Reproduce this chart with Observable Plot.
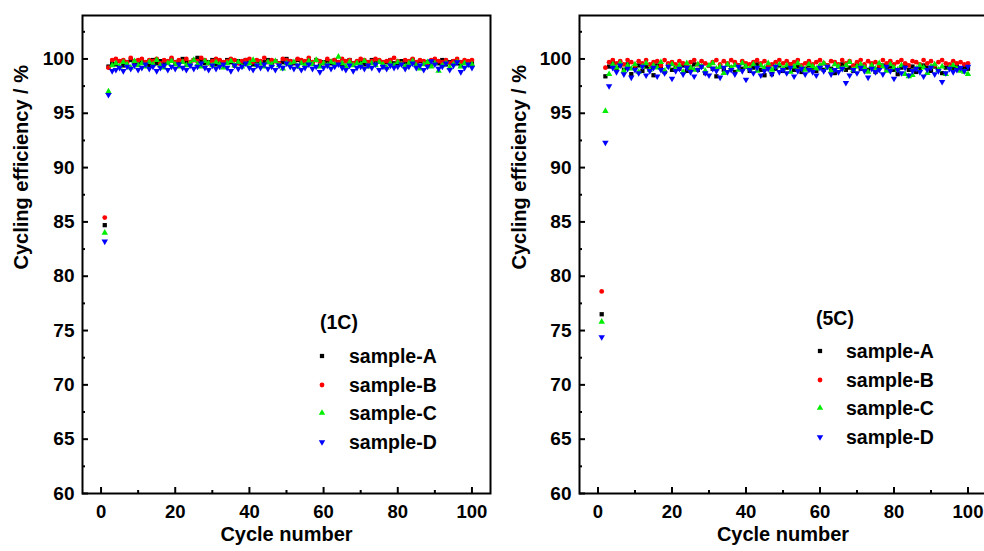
<!DOCTYPE html>
<html>
<head>
<meta charset="utf-8">
<script src="https://cdn.jsdelivr.net/npm/d3@7"></script>
<script src="https://cdn.jsdelivr.net/npm/@observablehq/plot@0.6"></script>
<style>
  html, body { margin: 0; padding: 0; background: #fff; }
  #wrap { position: relative; width: 984px; height: 551px; overflow: hidden; font-family: "Liberation Sans", Arial, sans-serif; font-weight: bold; color: #000; }
  .panel { position: absolute; top: 0; }
  .lg { position: absolute; white-space: nowrap; transform: translateY(-50%); font-size: 19.5px; line-height: 22px; }
  .mk { position: absolute; transform: translate(-50%, -50%); }
</style>
</head>
<body>
<div id="wrap"></div>
<script>
// ---------------- data ----------------
const cycles = d3.range(1, 101);
const sampleNames = ["sample-A", "sample-B", "sample-C", "sample-D"];
const sampleColors = ["#000000", "#ff0000", "#00ee00", "#0000ff"];
const rateLabels = ["(1C)", "(5C)"];
const xTicks = [0, 20, 40, 60, 80, 100];
const xMinor = [10, 30, 50, 70, 90];
const yTicks = [60, 65, 70, 75, 80, 85, 90, 95, 100];
const yMinor = [62.5, 67.5, 72.5, 77.5, 82.5, 87.5, 92.5, 97.5, 102.5];
const xLabel = "Cycle number";
const yLabel = "Cycling efficiency / %";

// 1C
const c1A = [84.7, 99.3, 99.6, 99.5, 99.8, 99.4, 99.7, 99.9, 99.6, 99.5,
  99.8, 99.7, 99.4, 99.9, 99.6, 99.8, 99.5, 99.7, 99.9, 99.6,
  99.8, 100.0, 99.7, 99.5, 99.9, 100.1, 99.8, 99.6, 99.7, 99.9,
  99.5, 99.8, 99.6, 99.9, 99.7, 99.4, 99.8, 99.6, 99.9, 99.7,
  99.5, 99.8, 99.6, 99.7, 99.9, 99.5, 99.8, 99.6, 99.7, 100.0,
  99.8, 99.6, 99.9, 99.7, 99.5, 99.8, 99.6, 99.9, 99.4, 99.7,
  99.8, 99.6, 99.9, 99.7, 99.5, 99.8, 99.9, 99.6, 99.7, 99.8,
  99.5, 99.7, 99.9, 99.6, 99.8, 99.4, 99.7, 99.9, 99.6, 99.5,
  99.8, 99.7, 99.6, 99.9, 99.5, 99.8, 99.6, 99.7, 99.4, 99.8,
  99.6, 99.9, 99.5, 99.7, 99.8, 99.6, 99.4, 99.7, 99.5, 99.6];
const c1B = [85.4, 99.2, 99.9, 100.0, 99.8, 99.9, 99.7, 100.1, 99.8, 99.9,
  100.0, 99.7, 99.9, 99.8, 100.0, 99.6, 99.9, 99.8, 100.1, 99.7,
  99.9, 99.8, 100.0, 99.7, 99.9, 99.8, 100.1, 99.9, 99.6, 99.8,
  100.0, 99.9, 99.7, 99.8, 100.0, 99.9, 99.6, 99.8, 99.9, 100.0,
  99.7, 99.9, 99.8, 100.1, 99.7, 99.9, 99.8, 99.6, 100.0, 99.9,
  99.8, 99.7, 100.0, 99.9, 99.8, 100.1, 99.7, 99.9, 99.8, 99.6,
  100.0, 99.8, 99.9, 99.7, 100.0, 99.8, 99.9, 99.6, 99.8, 100.0,
  99.9, 99.7, 99.8, 100.0, 99.9, 99.7, 99.8, 99.9, 100.1, 99.8,
  99.6, 99.9, 99.8, 100.0, 99.7, 99.9, 99.8, 99.6, 99.9, 100.0,
  99.8, 99.7, 99.9, 99.6, 99.8, 100.0, 99.7, 99.9, 99.8, 99.9];
const c1C = [84.0, 97.0, 99.4, 99.6, 99.3, 99.7, 99.5, 99.2, 99.8, 99.4,
  99.6, 99.3, 99.7, 99.5, 99.9, 99.4, 99.2, 99.6, 99.8, 99.5,
  99.3, 99.7, 99.4, 99.6, 99.9, 99.5, 99.3, 99.8, 99.6, 99.4,
  99.7, 99.5, 99.2, 99.6, 99.8, 99.4, 99.7, 99.3, 99.5, 99.6,
  99.9, 99.4, 99.6, 99.3, 99.7, 99.5, 99.8, 99.4, 99.1, 99.6,
  99.5, 99.7, 99.3, 99.6, 99.4, 99.8, 99.5, 99.9, 99.3, 99.6,
  99.4, 99.7, 99.5, 100.2, 99.6, 99.3, 99.7, 99.4, 99.6, 99.5,
  99.8, 99.3, 99.6, 99.4, 99.7, 99.5, 99.2, 99.6, 99.4, 99.7,
  99.5, 99.3, 99.6, 99.8, 99.4, 99.1, 99.5, 99.7, 99.3, 99.6,
  98.9, 99.4, 99.6, 99.2, 99.5, 99.7, 99.3, 99.6, 99.4, 99.5];
const c1D = [83.2, 96.7, 98.9, 99.0, 99.2, 98.9, 99.3, 99.1, 99.4, 99.0,
  99.2, 99.5, 99.1, 99.3, 98.9, 99.2, 99.4, 99.0, 99.3, 99.1,
  99.5, 99.2, 99.0, 99.4, 99.1, 99.3, 99.6, 99.2, 99.0, 99.4,
  99.1, 99.3, 99.5, 99.2, 98.9, 99.4, 99.1, 99.3, 99.6, 99.2,
  99.0, 99.4, 99.2, 99.5, 99.1, 99.3, 99.0, 99.4, 99.2, 99.6,
  99.3, 99.1, 99.4, 99.0, 99.2, 99.5, 99.1, 99.3, 98.8, 99.2,
  99.4, 99.1, 99.3, 99.5, 99.2, 99.0, 99.4, 98.9, 99.2, 99.3,
  99.1, 99.4, 99.2, 99.5, 99.0, 99.3, 99.1, 99.4, 99.2, 99.3,
  99.5, 99.1, 99.3, 99.6, 99.2, 99.4, 99.0, 99.3, 99.8, 99.5,
  99.1, 99.3, 99.6, 99.0, 99.4, 99.7, 98.8, 99.2, 99.5, 99.2];

// 5C
const c5A = [76.5, 98.4, 99.3, 99.6, 99.1, 99.4, 99.0, 99.5, 98.6, 99.2,
  99.4, 98.9, 99.3, 99.1, 98.5, 99.4, 99.2, 98.8, 99.5, 99.0,
  99.3, 99.1, 99.4, 98.9, 99.2, 99.5, 99.0, 99.3, 98.7, 99.4,
  99.1, 98.4, 99.3, 99.0, 99.5, 99.2, 98.8, 99.4, 99.1, 99.3,
  98.9, 99.2, 99.5, 99.0, 98.5, 99.3, 98.6, 99.1, 99.4, 98.9,
  99.2, 99.5, 99.0, 99.3, 98.8, 99.1, 99.4, 99.2, 98.9, 99.3,
  99.0, 99.4, 99.1, 98.7, 99.3, 99.5, 99.0, 99.2, 98.9, 99.4,
  99.1, 99.3, 99.0, 99.5, 98.8, 99.2, 99.4, 99.1, 99.3, 99.0,
  98.6, 99.2, 99.5, 99.0, 99.3, 98.8, 99.1, 99.4, 99.2, 98.9,
  99.3, 99.0, 98.7, 99.2, 99.4, 99.1, 99.3, 99.0, 99.2, 99.1];
const c5B = [78.6, 99.2, 99.7, 99.9, 99.6, 99.8, 99.5, 99.9, 99.7, 99.4,
  99.8, 99.6, 99.9, 99.5, 99.7, 99.8, 99.4, 99.9, 99.6, 99.7,
  99.5, 99.8, 99.6, 99.3, 99.7, 99.9, 99.5, 99.8, 99.6, 99.4,
  99.7, 99.9, 99.5, 99.8, 99.6, 99.9, 99.7, 99.4, 99.8, 99.6,
  99.5, 99.7, 99.9, 99.6, 99.8, 99.3, 99.5, 99.7, 99.9, 99.6,
  99.8, 99.5, 99.7, 99.9, 99.4, 99.6, 99.8, 99.5, 99.7, 99.9,
  99.6, 99.4, 99.8, 99.7, 99.5, 99.9, 99.6, 99.8, 99.4, 99.7,
  99.9, 99.5, 99.8, 99.6, 99.7, 99.4, 99.9, 99.6, 99.8, 99.5,
  99.7, 99.9, 99.6, 99.4, 99.8, 99.7, 99.5, 99.9, 99.6, 99.8,
  99.4, 99.7, 99.9, 99.6, 99.5, 99.8, 99.6, 99.7, 99.5, 99.6];
const c5C = [75.8, 95.2, 98.6, 99.5, 99.2, 99.6, 98.9, 99.4, 99.1, 99.5,
  98.8, 99.3, 99.6, 99.0, 99.4, 99.2, 99.7, 98.9, 99.3, 99.5,
  99.1, 99.4, 98.8, 99.6, 99.2, 99.0, 99.5, 99.3, 98.9, 99.4,
  99.6, 99.1, 99.3, 98.7, 99.5, 99.2, 99.4, 99.0, 99.6, 99.3,
  99.1, 99.5, 98.9, 99.4, 99.2, 99.6, 99.0, 99.3, 99.5, 99.1,
  99.4, 98.8, 99.3, 99.6, 99.2, 99.0, 99.5, 99.3, 99.1, 99.4,
  99.6, 99.2, 98.9, 99.5, 99.3, 99.1, 99.4, 99.7, 99.0, 99.3,
  99.5, 99.2, 98.8, 99.4, 99.1, 99.6, 99.3, 98.9, 99.5, 99.2,
  99.0, 99.4, 98.6, 98.4, 98.5, 99.1, 99.4, 99.2, 98.7, 99.3,
  99.5, 99.0, 99.3, 98.6, 99.2, 99.4, 99.1, 98.9, 98.8, 98.6];
const c5D = [74.4, 92.3, 97.5, 99.2, 98.8, 99.4, 98.6, 99.1, 98.3, 99.0,
  98.7, 99.3, 98.5, 98.9, 99.2, 98.4, 99.0, 98.7, 99.3, 98.2,
  98.9, 99.1, 98.6, 99.2, 98.8, 98.4, 99.0, 99.3, 98.7, 98.5,
  99.1, 98.9, 98.3, 99.2, 98.8, 99.0, 98.6, 99.3, 98.9, 98.1,
  99.0, 98.7, 99.2, 98.5, 98.9, 99.1, 98.6, 99.3, 98.8, 99.0,
  98.7, 99.2, 98.4, 98.9, 99.1, 98.6, 99.0, 98.8, 98.5, 99.2,
  98.9, 99.3, 98.6, 99.0, 98.8, 99.1, 97.8, 98.5, 99.0, 98.7,
  99.2, 98.9, 98.3, 99.1, 98.8, 99.0, 98.6, 99.3, 98.9, 98.2,
  99.0, 98.7, 99.2, 98.5, 98.9, 99.1, 98.8, 98.4, 99.0, 99.2,
  98.6, 98.9, 97.9, 98.7, 99.1, 98.8, 99.0, 99.2, 98.9, 99.3];

const panels1C = [c1A, c1B, c1C, c1D];
const panels5C = [c5A, c5B, c5C, c5D];

// ---------------- symbols ----------------
const triangleDown = {
  draw(ctx, size) {
    const s = Math.sqrt(size / (Math.sqrt(3) / 4));
    const h = s * Math.sqrt(3) / 2;
    ctx.moveTo(0, h * 2 / 3);
    ctx.lineTo(s / 2, -h / 3);
    ctx.lineTo(-s / 2, -h / 3);
    ctx.closePath();
  }
};
const sampleSymbols = [d3.symbolSquare, d3.symbolCircle, d3.symbolTriangle, triangleDown];

// ---------------- layout ----------------
const H = 551, MT = 15, MB = 58;
const frameH = H - MT - MB;

function panel(series, opts) {
  const frameW = opts.width - opts.marginLeft - opts.marginRight;
  const marks = [];
  series.forEach((vals, i) => {
    const rows = cycles.map((c, k) => ({cycle: c, eff: vals[k]}));
    marks.push(Plot.dot(rows, {x: "cycle", y: "eff", r: 2.4, fill: sampleColors[i], stroke: "none", symbol: sampleSymbols[i]}));
  });
  marks.push(
    Plot.tickX(xTicks, {x: d => d, insetTop: frameH - 6, stroke: "#000", strokeWidth: 2}),
    Plot.tickX(xMinor, {x: d => d, insetTop: frameH - 3, stroke: "#000", strokeWidth: 2}),
    Plot.tickY(yTicks, {y: d => d, insetRight: frameW - 6, stroke: "#000", strokeWidth: 2}),
    Plot.tickY(yMinor, {y: d => d, insetRight: frameW - 3, stroke: "#000", strokeWidth: 2}),
    Plot.axisX({ticks: xTicks, tickSize: 0, tickPadding: 11, label: null, fontSize: 18.5, fontWeight: "bold"}),
    Plot.axisY({ticks: yTicks, tickSize: 0, tickPadding: 8, label: null, fontSize: 19, fontWeight: "bold"}),
    Plot.frame({stroke: "#000", strokeWidth: 2}),
    Plot.text([xLabel], {text: d => d, frameAnchor: "bottom", dy: 47, fontSize: 20, fontWeight: "bold", fill: "#000"}),
    Plot.text([yLabel], {text: d => d, frameAnchor: "left", dx: opts.yLabelDx, dy: 15, rotate: -90, fontSize: 20, fontWeight: "bold", fill: "#000"})
  );
  return Plot.plot({
    width: opts.width, height: H,
    marginLeft: opts.marginLeft, marginRight: opts.marginRight, marginTop: MT, marginBottom: MB,
    x: {domain: [-5, 105]},
    y: {domain: [60, 104]},
    style: {fontFamily: '"Liberation Sans", Arial, sans-serif', fontWeight: "bold", color: "#000", background: "transparent", overflow: "visible"},
    marks
  });
}

const wrap = document.getElementById("wrap");

const left = panel(panels1C, {width: 492, marginLeft: 82, marginRight: 2, yLabelDx: -61});
left.classList.add("panel"); left.style.left = "0px";
wrap.appendChild(left);

const right = panel(panels5C, {width: 497, marginLeft: 88, marginRight: 2, yLabelDx: -60});
right.classList.add("panel"); right.style.left = "491px";
wrap.appendChild(right);

// ---------------- legends ----------------
function legend(rate, cfg) {
  const t = document.createElement("div");
  t.className = "lg"; t.textContent = rate;
  t.style.left = cfg.titleX + "px"; t.style.top = cfg.titleY + "px";
  wrap.appendChild(t);
  sampleNames.forEach((name, i) => {
    const y = cfg.rowY + i * cfg.rowStep;
    const ns = "http://www.w3.org/2000/svg";
    const svg = document.createElementNS(ns, "svg");
    svg.setAttribute("width", 10); svg.setAttribute("height", 10);
    svg.setAttribute("viewBox", "-5 -5 10 10");
    svg.setAttribute("class", "mk");
    svg.style.left = cfg.markX + "px"; svg.style.top = y + "px";
    const p = document.createElementNS(ns, "path");
    p.setAttribute("d", d3.symbol(sampleSymbols[i], Math.PI * 2.4 * 2.4)());
    p.setAttribute("fill", sampleColors[i]);
    svg.appendChild(p);
    wrap.appendChild(svg);
    const l = document.createElement("div");
    l.className = "lg"; l.textContent = name;
    l.style.left = cfg.labelX + "px"; l.style.top = y + "px";
    wrap.appendChild(l);
  });
}
legend(rateLabels[0], {titleX: 320, titleY: 322, markX: 322, labelX: 349, rowY: 356, rowStep: 28.7});
legend(rateLabels[1], {titleX: 816, titleY: 318, markX: 820, labelX: 846, rowY: 351, rowStep: 28.6});
</script>
</body>
</html>
